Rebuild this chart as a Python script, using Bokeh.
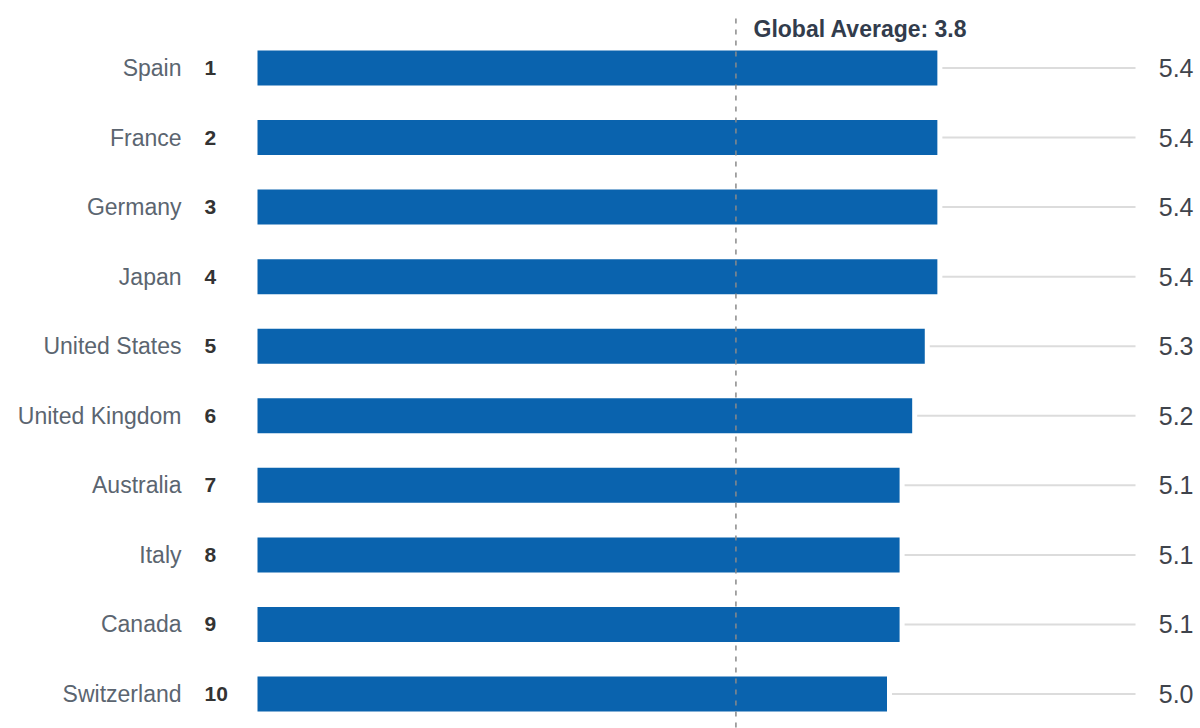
from bokeh.plotting import figure
from bokeh.models import Range1d, ColumnDataSource
from bokeh.core.properties import value
from bokeh.embed import file_html
from bokeh.resources import INLINE

countries = ["Spain", "France", "Germany", "Japan", "United States",
             "United Kingdom", "Australia", "Italy", "Canada", "Switzerland"]
ranks = ["1", "2", "3", "4", "5", "6", "7", "8", "9", "10"]
scores = [5.4, 5.4, 5.4, 5.4, 5.3, 5.2, 5.1, 5.1, 5.1, 5.0]
score_labels = ["5.4", "5.4", "5.4", "5.4", "5.3", "5.2", "5.1", "5.1", "5.1", "5.0"]
global_average = 3.8
global_label = "Global Average: 3.8"

W, H = 1200, 728
x0_px = 257.0          # pixel of value 0
unit_px = 125.9        # pixels per unit
row0_px = 67.5         # pixel of first row centre
row_px = 69.56         # row spacing

def xv(px):
    return (px - x0_px) / unit_px

def yv(px):
    return (px - row0_px) / row_px

rows = list(range(len(countries)))

p = figure(width=W, height=H, output_backend="svg", toolbar_location=None,
           x_axis_type=None, y_axis_type=None, min_border=0,
           x_range=Range1d(xv(0), xv(W)), y_range=Range1d(yv(H), yv(0)))
p.outline_line_color = None
p.grid.visible = False
p.background_fill_color = "white"
p.border_fill_color = "white"

src = ColumnDataSource(dict(
    y=rows, country=countries, rank=ranks, score=scores, label=score_labels,
    line_start=[s + 5.0 / unit_px for s in scores],
    line_end=[xv(1135)] * len(rows),
))

# gray leader lines
p.segment(x0="line_start", y0="y", x1="line_end", y1="y", source=src,
          line_color="#dcdcdc", line_width=2)

# bars
p.hbar(y="y", left=0, right="score", height=35.0 / row_px, source=src,
       fill_color="#0a63ae", line_color=None)

# global average dashed line
p.segment(x0=[global_average], y0=[yv(18)], x1=[global_average], y1=[yv(H)],
          line_color="#8a8a8a", line_width=1.5, line_dash="5 6")

p.text(x=[global_average + xv(753) - global_average], y=[yv(28)], text=[global_label],
       text_font=value("Liberation Sans"), text_font_size="23px",
       text_font_style="bold", text_color="#323c4c",
       text_align="left", text_baseline="middle")

# country names
p.text(x=xv(181), y="y", text="country", source=src,
       text_font=value("Liberation Sans"), text_font_size="23px",
       text_color="#5b6570", text_align="right", text_baseline="middle")

# ranks
p.text(x=xv(204), y="y", text="rank", source=src,
       text_font=value("Liberation Sans"), text_font_size="21px",
       text_font_style="bold", text_color="#333333",
       text_align="left", text_baseline="middle")

# values
p.text(x=xv(1193), y="y", text="label", source=src,
       text_font=value("Liberation Sans"), text_font_size="25px",
       text_color="#3f444c", text_align="right", text_baseline="middle")

open("out.html", "w").write(file_html(p, INLINE))
